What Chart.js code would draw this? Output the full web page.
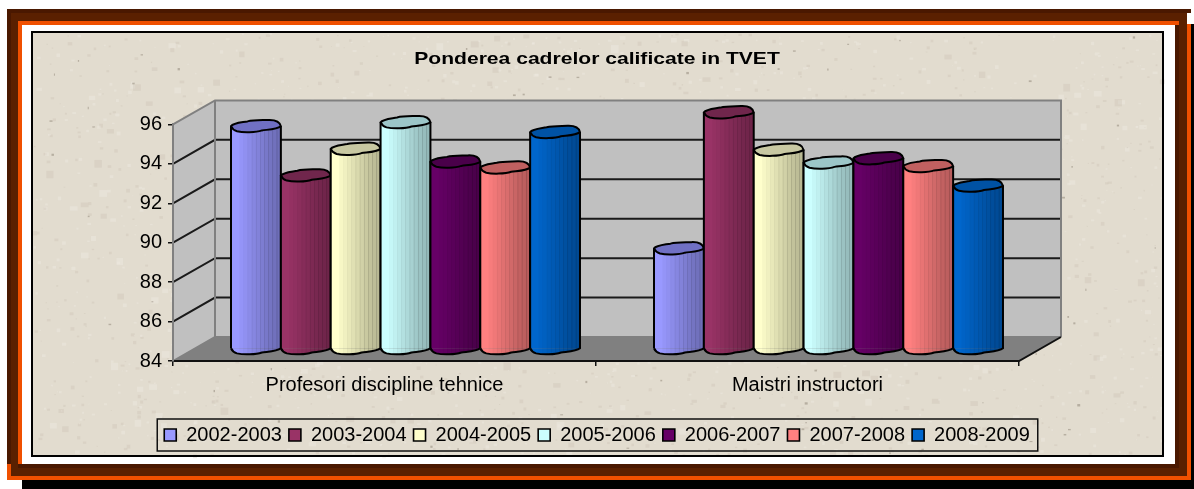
<!DOCTYPE html>
<html><head><meta charset="utf-8">
<style>html,body{margin:0;padding:0;background:#fff;overflow:hidden}
#w{width:1194px;height:489px;position:relative}
canvas{display:block;filter:blur(0.45px)}</style>
<script src="https://cdn.jsdelivr.net/npm/chart.js@4"></script>
</head><body><div id="w"><canvas id="c" width="1194" height="489"></canvas></div>
<script>
const categories = ['Profesori discipline tehnice', 'Maistri instructori'];
const seriesNames = ['2002-2003','2003-2004','2004-2005','2005-2006','2006-2007','2007-2008','2008-2009'];
const v2002 = [95.3, 89.1];
const v2003 = [92.8, 96.0];
const v2004 = [94.15, 94.1];
const v2005 = [95.5, 93.45];
const v2006 = [93.5, 93.67];
const v2007 = [93.2, 93.27];
const v2008 = [95.0, 92.28];
const seriesValues = [v2002,v2003,v2004,v2005,v2006,v2007,v2008];
const faceColors = ['#9999FF','#993366','#FFFFCC','#CCFFFF','#660066','#FF8080','#0066CC'];
const capColors  = ['#7070C4','#70264C','#C8C8A2','#9CC6C8','#4A004A','#C06060','#0052A4'];
const depthX = 42, depthY = 24;

function capPath(ctx,x0,x1,yc,h,bottomOnly){
  const w=x1-x0;
  if(!bottomOnly){
    ctx.moveTo(x0,yc);
    ctx.bezierCurveTo(x0+.05*w,yc-.55*h,x0+.2*w,yc-.6*h,x0+.33*w,yc-.8*h);
    ctx.bezierCurveTo(x0+.45*w,yc-1.05*h,x0+.6*w,yc-h,x0+.75*w,yc-1.05*h);
    ctx.bezierCurveTo(x0+.9*w,yc-1.1*h,x0+.98*w,yc-.7*h,x1,yc);
  }
  ctx.bezierCurveTo(x0+.92*w,yc+.55*h,x0+.75*w,yc+.55*h,x0+.62*w,yc+.7*h);
  ctx.bezierCurveTo(x0+.5*w,yc+1.05*h,x0+.25*w,yc+1.1*h,x0+.12*w,yc+.85*h);
  ctx.bezierCurveTo(x0+.06*w,yc+.7*h,x0+.02*w,yc+.4*h,x0,yc);
}
function drawCylinderParts(c,meta,idx){
  meta.data.forEach(b=>{
    const p=b.getProps(['x','y','base','width'],true);
    const x0=p.x-p.width/2,x1=p.x+p.width/2,h=6;
    c.beginPath();c.moveTo(x0,p.base);c.lineTo(x1,p.base);capPath(c,x0,x1,p.base,h,true);c.closePath();
    c.fillStyle=faceColors[idx];c.fill();
    c.save();
    c.beginPath();c.moveTo(x0,p.y);c.lineTo(x1,p.y);c.lineTo(x1,p.base);capPath(c,x0,x1,p.base,h,true);c.closePath();c.clip();
    const bands=[0,0,.03,.06,.09,.12,.15,.18,.21,.24,.26,.28];
    const sw=p.width/bands.length;
    bands.forEach((al,i)=>{ if(al){c.fillStyle='rgba(0,0,0,'+al+')';c.fillRect(x0+i*sw,p.y-8,sw+.5,p.base-p.y+20);} });
    c.restore();
    c.strokeStyle='#000';c.lineWidth=2;
    c.beginPath();c.moveTo(x0,p.y);c.lineTo(x0,p.base);c.stroke();
    c.beginPath();c.moveTo(x1,p.y);c.lineTo(x1,p.base);capPath(c,x0,x1,p.base,h,true);c.stroke();
    c.beginPath();capPath(c,x0,x1,p.y,h);c.closePath();
    c.fillStyle=capColors[idx];c.fill();c.stroke();
  });
}

const framePlugin = {
  id:'frame',
  afterLayout(chart){
    const t=chart.titleBlock;
    if(!t._wrapped){
      const d=t.draw;
      t.draw=function(){
        const ctx=this.ctx, cx=(this.left+this.right)/2;
        ctx.save();ctx.translate(cx,0);ctx.scale(1.24,1);ctx.translate(-cx,0);
        d.call(this);ctx.restore();
      };
      t._wrapped=true;
    }
  },
  beforeDraw(chart){
    const c=chart.ctx, R=(col,x0,y0,x1,y1)=>{c.fillStyle=col;c.fillRect(x0,y0,x1-x0,y1-y0);};
    c.save();
    R('#fff',0,0,1194,489);
    R('#000',22,480,1194,489); R('#000',1190,24,1194,480);
    R('#5A2000',7,9,1187,476);
    R('#4A1800',7,9,1191,13); R('#4A1800',7,9,11,464);
    R('#4A1800',1175,21,1179,468); R('#4A1800',18,464,1179,468);
    R('#F05000',18,21,1179,25); R('#F05000',18,21,22,464);
    R('#F05000',7,464,11,480); R('#F05000',7,476,1191,480); R('#F05000',1187,24,1191,480);
    R('#fff',22,25,1175,464);
    R('#E2DCCF',32,32,1163,456);
    let seed=20240611; const rnd=()=>{seed=(seed*1664525+1013904223)>>>0;return seed/4294967296;};
    for(let i=0;i<2600;i++){
      const x=33+rnd()*1129,y=33+rnd()*422,s=rnd(),r=rnd()<.85?1+rnd()*3:3+rnd()*5;
      c.fillStyle=s<.55?'rgba(238,233,224,.45)':'rgba(196,188,172,.28)';
      c.fillRect(x,y,r,r*(.5+rnd()*.6));
    }
    for(let i=0;i<120;i++){
      const x=33+rnd()*1129,y=33+rnd()*422;
      c.fillStyle='rgba(140,130,115,.5)'; c.fillRect(x,y,1+rnd()*2,1+rnd()*1.5);
    }
    c.strokeStyle='#000'; c.lineWidth=2; c.strokeRect(32,32,1131,424);

    const hb=chart.legend.legendHitBoxes;
    const lx0=hb[0].left-7, lx1=hb[hb.length-1].left+hb[hb.length-1].width+8;
    const cy=hb[0].top+hb[0].height/2;
    c.lineWidth=1.5; c.strokeStyle='#111';
    c.strokeRect(lx0,cy-16,lx1-lx0,32);

    const a=chart.chartArea, y=chart.scales.y, L=a.left,Rr=a.right,T=a.top,B=a.bottom;
    c.fillStyle='#C0C0C0';
    c.beginPath();c.moveTo(L,B);c.lineTo(L,T);c.lineTo(L+depthX,T-depthY);c.lineTo(L+depthX,B-depthY);c.closePath();c.fill();
    c.fillRect(L+depthX,T-depthY,Rr-L,B-T);
    c.fillStyle='#808080';
    c.beginPath();c.moveTo(L,B);c.lineTo(L+depthX,B-depthY);c.lineTo(Rr+depthX,B-depthY);c.lineTo(Rr,B);c.closePath();c.fill();
    c.lineWidth=2; c.strokeStyle='#1a1a1a';
    y.ticks.forEach(t=>{
      if(t.value<=y.min||t.value>=y.max) return;
      const p=y.getPixelForValue(t.value);
      c.beginPath();c.moveTo(L,p);c.lineTo(L+depthX,p-depthY);c.lineTo(Rr+depthX,p-depthY);c.stroke();
    });
    c.strokeStyle='#808080'; c.lineWidth=2;
    c.beginPath();c.moveTo(L,B);c.lineTo(L+depthX,B-depthY);c.lineTo(Rr+depthX,B-depthY);c.stroke();
    c.beginPath();c.moveTo(L,T);c.lineTo(L+depthX,T-depthY);c.lineTo(Rr+depthX,T-depthY);c.lineTo(Rr+depthX,B-depthY);c.stroke();
    c.beginPath();c.moveTo(L+depthX,T-depthY);c.lineTo(L+depthX,B-depthY);c.stroke();
    c.strokeStyle='#111'; c.lineWidth=2;
    c.beginPath();c.moveTo(L,B);c.lineTo(Rr,B);c.lineTo(Rr+depthX,B-depthY);c.stroke();
    c.restore();
  },
  beforeDatasetsDraw(chart){
    const c=chart.ctx;
    chart.getSortedVisibleDatasetMetas().forEach(meta=>{
      c.save();
      c.translate(depthX/2,-depthY/2);
      meta.controller.draw();
      drawCylinderParts(c,meta,meta.index);
      c.restore();
    });
    return false;
  }
};

const textFont={family:'"Liberation Sans", Arial, sans-serif',size:20};
new Chart(document.getElementById('c'),{
  type:'bar',
  plugins:[framePlugin],
  data:{labels:categories,datasets:seriesNames.map((n,i)=>({
    label:n,data:seriesValues[i],backgroundColor:faceColors[i],borderWidth:0,
    clip:false,base:84,yAxisID:'y',
    categoryPercentage:.825,barPercentage:1
  }))},
  options:{
    responsive:false,animation:false,
    layout:{padding:{left:133,right:133,top:0,bottom:34}},
    plugins:{
      tooltip:{enabled:false},
      title:{display:true,text:'Ponderea cadrelor calificate in TVET',color:'#000',
        font:{family:textFont.family,size:17,weight:'bold'},padding:{top:49,bottom:55}},
      legend:{display:true,position:'bottom',onClick:null,
        labels:{color:'#000',font:textFont,boxWidth:12,boxHeight:12,padding:7,
          generateLabels(ch){return seriesNames.map((n,i)=>({text:n,datasetIndex:i,fillStyle:faceColors[i],strokeStyle:'#000',lineWidth:1.6,fontColor:'#000'}));}}}
    },
    scales:{
      x:{grid:{drawOnChartArea:false,drawTicks:true,tickLength:5,color:'#111',lineWidth:1.5},
        border:{color:'#111',width:2},
        ticks:{color:'#000',font:textFont,padding:7,maxRotation:0},
        afterFit(s){s.height=57;}},
      y:{min:84,max:96,
        grid:{drawOnChartArea:false,drawTicks:true,tickLength:5,color:'#111',lineWidth:1.5},
        border:{color:'#808080',width:2},
        ticks:{color:'#000',font:textFont,stepSize:2,padding:6},
        afterFit(s){s.width=40;}},
      spacer:{position:'right',display:true,grid:{display:false},border:{display:false},
        ticks:{display:false},afterFit(s){s.width=42;}}
    }
  }
});
</script></body></html>
